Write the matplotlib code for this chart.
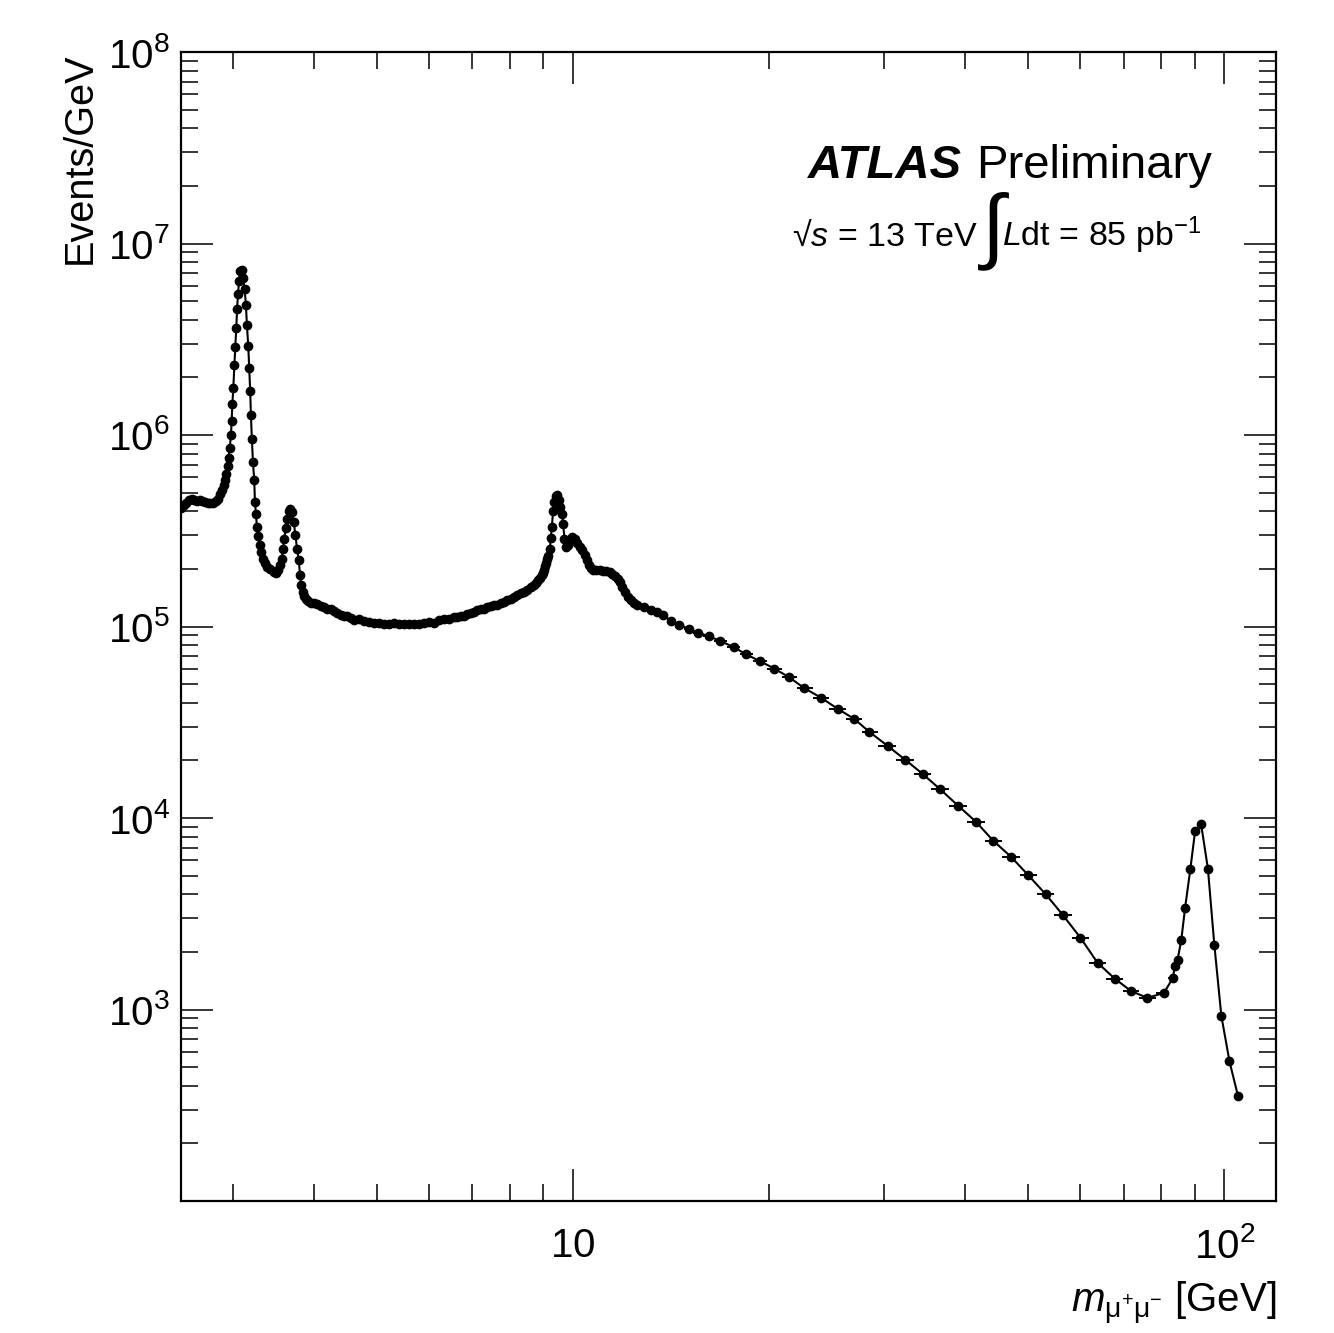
import numpy as np
import matplotlib
matplotlib.use('Agg')
import matplotlib.pyplot as plt
from matplotlib.ticker import FixedLocator, FixedFormatter, LogLocator, NullFormatter

# dimuon invariant mass spectrum
mass = [
    2.499, 2.523, 2.547, 2.572, 2.599, 2.621, 2.646, 2.671, 2.696, 2.722,
    2.748, 2.773, 2.799, 2.826, 2.846, 2.866, 2.886, 2.907, 2.920, 2.934,
    2.949, 2.959, 2.970, 2.983, 2.990, 2.998, 3.008, 3.019, 3.029, 3.040,
    3.048, 3.058, 3.069, 3.083, 3.098, 3.112, 3.131, 3.145, 3.156, 3.171,
    3.182, 3.193, 3.201, 3.212, 3.224, 3.239, 3.247, 3.258, 3.270, 3.285,
    3.301, 3.317, 3.337, 3.360, 3.388, 3.427, 3.469, 3.497, 3.526, 3.551,
    3.569, 3.585, 3.602, 3.620, 3.637, 3.659, 3.680, 3.702, 3.724, 3.746,
    3.768, 3.791, 3.808, 3.826, 3.845, 3.863, 3.886, 3.922, 3.955, 4.002,
    4.049, 4.098, 4.146, 4.194, 4.245, 4.295, 4.345, 4.398, 4.450, 4.502,
    4.557, 4.611, 4.693, 4.776, 4.861, 4.948, 5.035, 5.125, 5.216, 5.309,
    5.404, 5.500, 5.598, 5.698, 5.800, 5.903, 6.009, 6.116, 6.226, 6.337,
    6.450, 6.565, 6.642, 6.723, 6.801, 6.881, 6.964, 7.046, 7.129, 7.215,
    7.300, 7.386, 7.475, 7.563, 7.652, 7.744, 7.835, 7.927, 8.023, 8.117,
    8.212, 8.311, 8.409, 8.507, 8.610, 8.711, 8.782, 8.845, 8.907, 8.951,
    8.993, 9.024, 9.057, 9.089, 9.131, 9.164, 9.209, 9.242, 9.275, 9.317,
    9.361, 9.407, 9.460, 9.517, 9.561, 9.608, 9.652, 9.697, 9.745, 9.814,
    9.884, 9.975, 10.07, 10.15, 10.25, 10.33, 10.43, 10.51, 10.58, 10.66,
    10.74, 10.86, 10.99, 11.12, 11.25, 11.39, 11.49, 11.60, 11.70, 11.80,
    11.90, 12.02, 12.12, 12.26, 12.41, 12.55, 12.85, 13.16, 13.43, 13.75,
    14.13, 14.55, 15.04, 15.57, 16.14, 16.82, 17.63, 18.42, 19.38, 20.36,
    21.47, 22.63, 24.02, 25.47, 27.02, 28.49, 30.40, 32.32, 34.40, 36.63,
    39.00, 41.54, 44.19, 47.01, 50.00, 53.19, 56.50, 60.11, 63.88, 67.86,
    71.84, 76.15, 80.73, 83.34, 83.94, 84.74, 85.86, 86.99, 88.66, 90.16,
    92.10, 94.33, 96.49, 98.91, 101.8, 104.9,
]
events = [
    4.18e5, 4.30e5, 4.44e5, 4.56e5, 4.62e5, 4.56e5, 4.51e5, 4.55e5, 4.51e5, 4.47e5,
    4.44e5, 4.42e5, 4.44e5, 4.51e5, 4.66e5, 4.89e5, 5.15e5, 5.47e5, 5.85e5, 6.29e5,
    6.90e5, 7.54e5, 8.56e5, 9.98e5, 1.19e6, 1.45e6, 1.77e6, 2.32e6, 2.89e6, 3.63e6,
    4.53e6, 5.42e6, 6.36e6, 7.18e6, 7.26e6, 6.62e6, 5.76e6, 4.77e6, 3.75e6, 2.92e6,
    2.24e6, 1.69e6, 1.27e6, 9.51e5, 7.23e5, 5.80e5, 4.47e5, 3.89e5, 3.31e5, 2.96e5,
    2.66e5, 2.45e5, 2.26e5, 2.15e5, 2.05e5, 1.99e5, 1.93e5, 1.91e5, 1.97e5, 2.09e5,
    2.26e5, 2.55e5, 2.88e5, 3.27e5, 3.66e5, 4.00e5, 4.10e5, 3.94e5, 3.52e5, 3.00e5,
    2.55e5, 2.22e5, 1.85e5, 1.64e5, 1.51e5, 1.44e5, 1.40e5, 1.36e5, 1.33e5, 1.32e5,
    1.31e5, 1.28e5, 1.26e5, 1.24e5, 1.23e5, 1.21e5, 1.18e5, 1.15e5, 1.13e5, 1.14e5,
    1.11e5, 1.08e5, 1.09e5, 1.07e5, 1.06e5, 1.04e5, 1.04e5, 1.03e5, 1.03e5, 1.04e5,
    1.03e5, 1.03e5, 1.03e5, 1.03e5, 1.03e5, 1.04e5, 1.06e5, 1.04e5, 1.08e5, 1.09e5,
    1.09e5, 1.12e5, 1.12e5, 1.14e5, 1.13e5, 1.16e5, 1.18e5, 1.19e5, 1.22e5, 1.23e5,
    1.24e5, 1.26e5, 1.28e5, 1.29e5, 1.30e5, 1.32e5, 1.34e5, 1.37e5, 1.40e5, 1.43e5,
    1.46e5, 1.49e5, 1.52e5, 1.56e5, 1.60e5, 1.64e5, 1.69e5, 1.74e5, 1.80e5, 1.85e5,
    1.90e5, 1.98e5, 2.06e5, 2.15e5, 2.24e5, 2.33e5, 2.55e5, 2.91e5, 3.31e5, 4.01e5,
    4.47e5, 4.79e5, 4.85e5, 4.60e5, 4.21e5, 3.89e5, 3.45e5, 2.88e5, 2.60e5, 2.66e5,
    2.82e5, 2.94e5, 2.88e5, 2.73e5, 2.60e5, 2.50e5, 2.36e5, 2.22e5, 2.09e5, 2.01e5,
    1.97e5, 1.97e5, 1.97e5, 1.95e5, 1.94e5, 1.92e5, 1.89e5, 1.83e5, 1.78e5, 1.71e5,
    1.61e5, 1.52e5, 1.43e5, 1.37e5, 1.33e5, 1.29e5, 1.27e5, 1.22e5, 1.19e5, 1.15e5,
    1.07e5, 1.02e5, 9.75e4, 9.25e4, 8.92e4, 8.40e4, 7.82e4, 7.16e4, 6.58e4, 6.03e4,
    5.43e4, 4.77e4, 4.25e4, 3.72e4, 3.29e4, 2.82e4, 2.38e4, 2.02e4, 1.70e4, 1.41e4,
    1.16e4, 9.56e3, 7.59e3, 6.28e3, 5.02e3, 3.99e3, 3.11e3, 2.37e3, 1.75e3, 1.45e3,
    1.25e3, 1.15e3, 1.22e3, 1.46e3, 1.69e3, 1.82e3, 2.31e3, 3.37e3, 5.43e3, 8.57e3,
    9.26e3, 5.43e3, 2.18e3, 928, 536, 354,
]

x_ticks = [10, 100]
x_tick_labels = [r'$\mathregular{10}$', r'$\mathregular{10^{2}}$']
y_ticks = [1e3, 1e4, 1e5, 1e6, 1e7, 1e8]
y_tick_labels = [r'$\mathregular{10^{%d}}$' % k for k in range(3, 9)]

plt.rcParams['font.family'] = ['Liberation Sans', 'DejaVu Sans']
plt.rcParams['mathtext.fontset'] = 'custom'
plt.rcParams['mathtext.rm'] = 'Liberation Sans'
plt.rcParams['mathtext.it'] = 'Liberation Sans:italic'
plt.rcParams['mathtext.bf'] = 'Liberation Sans:bold'

W, H = 1334, 1333


def px(x, y):
    # pixel position on the canvas -> figure fraction
    return x / W, 1 - y / H


fig = plt.figure(figsize=(W / 100, H / 100), dpi=100)
ax = fig.add_axes([181 / W, 1 - 1201 / H, (1276 - 181) / W, (1201 - 52) / H])

m = np.array(mass)
n = np.array(events)
# horizontal bars span the bin, edges halfway between neighbours in log space
lm = np.log10(m)
mid = (lm[1:] + lm[:-1]) / 2
edges = np.concatenate(([2 * lm[0] - mid[0]], mid, [2 * lm[-1] - mid[-1]]))
xerr = [m - 10 ** edges[:-1], 10 ** edges[1:] - m]

ax.plot(m, n, '-', color='black', lw=1.5, zorder=2)
ax.errorbar(m, n, xerr=xerr, fmt='o', color='black', ms=6, elinewidth=1.4,
            capsize=0, zorder=3)

ax.set_xscale('log')
ax.set_yscale('log')
ax.set_xlim(2.5, 120)
ax.set_ylim(1e2, 1e8)

ax.xaxis.set_major_locator(FixedLocator(x_ticks))
ax.xaxis.set_major_formatter(FixedFormatter(x_tick_labels))
ax.xaxis.set_minor_locator(LogLocator(base=10, subs=np.arange(2, 10)))
ax.xaxis.set_minor_formatter(NullFormatter())
ax.yaxis.set_major_locator(FixedLocator(y_ticks))
ax.yaxis.set_major_formatter(FixedFormatter(y_tick_labels))
ax.yaxis.set_minor_locator(LogLocator(base=10, subs=np.arange(2, 10), numticks=20))
ax.yaxis.set_minor_formatter(NullFormatter())

ax.tick_params(which='both', direction='in', top=True, right=True, width=1.1)
ax.tick_params(which='major', length=23)
ax.tick_params(which='minor', length=12)
ax.tick_params(axis='y', which='major', labelsize=29, pad=8)
ax.tick_params(axis='x', which='major', labelsize=29, pad=19)
for s in ax.spines.values():
    s.set_linewidth(1.6)

fig.text(*px(80, 52), 'Events/GeV', rotation=90, ha='center', va='top', fontsize=28.5)
fig.text(*px(1276, 1312), r'$m_{\mathrm{\mu^{+}\mu^{-}}}$ [GeV]', ha='right',
         va='baseline', fontsize=29)

fig.text(*px(808, 178), 'ATLAS', fontsize=34, fontweight='bold', fontstyle='italic',
         ha='left', va='baseline')
fig.text(*px(1212, 178), 'Preliminary', fontsize=34, ha='right', va='baseline')
fig.text(*px(978, 246), '\u221a$s$ = 13 TeV', fontsize=24.5, ha='right', va='baseline')
fig.text(*px(993, 231), '\u222b', fontsize=60, ha='center', va='center')
fig.text(*px(1002, 246), r'$L$dt = 85 pb$^{\mathregular{-1}}$', fontsize=24.5,
         ha='left', va='baseline')

fig.savefig('out.png', dpi=100)
